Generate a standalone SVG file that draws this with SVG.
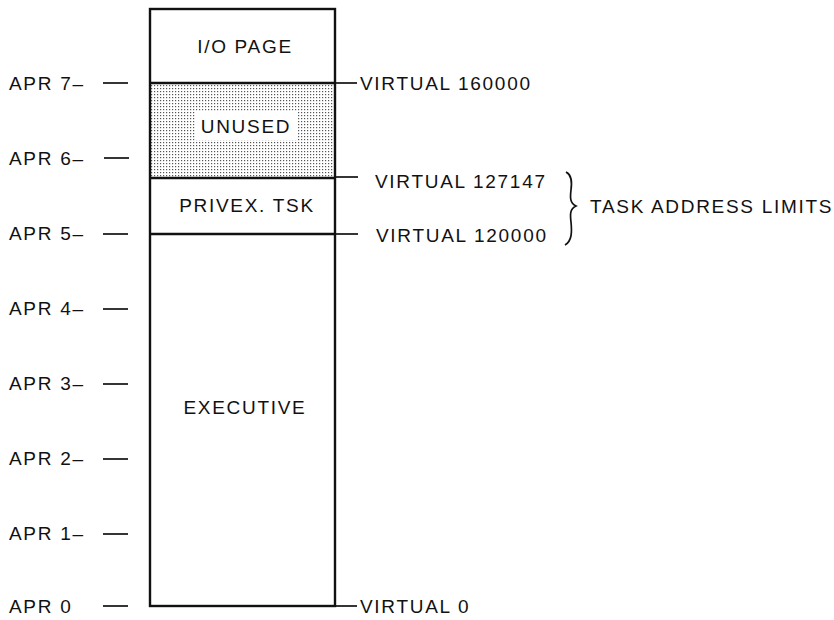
<svg xmlns="http://www.w3.org/2000/svg" width="834" height="620" viewBox="0 0 834 620">
<style>
text{font-family:"Liberation Sans",Arial,sans-serif;font-size:19px;fill:#111;letter-spacing:1.7px}
.c{text-anchor:middle}
.ln{stroke:#111;stroke-width:2.4;fill:none}
.tk{stroke:#111;stroke-width:1.7}
</style>
<defs>
<pattern id="dots" width="3" height="3" patternUnits="userSpaceOnUse">
<rect width="3" height="3" fill="#fff"/>
<rect x="1" y="1" width="1.2" height="1.2" fill="#555"/>
</pattern>
</defs>
<g id="unused">
<rect x="150" y="83" width="185" height="95" fill="url(#dots)"/>
<rect x="196" y="112" width="102" height="28" fill="#fff"/>
<text class="c" x="246" y="133">UNUSED</text>
</g>
<g id="iopage">
<text class="c" x="245" y="53">I/O PAGE</text>
</g>
<g id="privex">
<text class="c" x="247" y="212">PRIVEX. TSK</text>
</g>
<g id="executive">
<text class="c" x="245" y="414">EXECUTIVE</text>
</g>
<g id="frame">
<rect class="ln" x="150" y="9" width="185" height="597"/>
<line class="ln" x1="150" y1="83" x2="335" y2="83"/>
<line class="ln" x1="150" y1="178" x2="335" y2="178"/>
<line class="ln" x1="150" y1="234" x2="335" y2="234"/>
</g>
<g id="apr-labels">
<text x="9" y="90">APR 7–</text>
<text x="9" y="165">APR 6–</text>
<text x="9" y="240">APR 5–</text>
<text x="9" y="315">APR 4–</text>
<text x="9" y="390">APR 3–</text>
<text x="9" y="465">APR 2–</text>
<text x="9" y="540">APR 1–</text>
<text x="9" y="613">APR 0</text>
<line class="tk" x1="103" y1="83" x2="128" y2="83"/>
<line class="tk" x1="104" y1="158" x2="129" y2="158"/>
<line class="tk" x1="103" y1="234" x2="128" y2="234"/>
<line class="tk" x1="103" y1="309" x2="128" y2="309"/>
<line class="tk" x1="103" y1="384" x2="128" y2="384"/>
<line class="tk" x1="103" y1="459" x2="128" y2="459"/>
<line class="tk" x1="103" y1="534" x2="128" y2="534"/>
<line class="tk" x1="103" y1="606" x2="128" y2="606"/>
</g>
<g id="virtual-labels">
<line class="tk" x1="335" y1="83" x2="357" y2="83"/>
<text x="360" y="90">VIRTUAL 160000</text>
<line class="tk" x1="335" y1="177" x2="358" y2="177"/>
<text x="375" y="188">VIRTUAL 127147</text>
<line class="tk" x1="335" y1="234" x2="358" y2="234"/>
<text x="376" y="242">VIRTUAL 120000</text>
<line class="tk" x1="335" y1="606" x2="357" y2="606"/>
<text x="360" y="613">VIRTUAL 0</text>
</g>
<g id="brace">
<path class="tk" fill="none" d="M566,172 C572,175 572,182 571,190 C570,198 570,203 576,206 C570,209 570,214 571,222 C572,232 572,241 565,245"/>
<text x="590" y="213">TASK ADDRESS LIMITS</text>
</g>
</svg>
